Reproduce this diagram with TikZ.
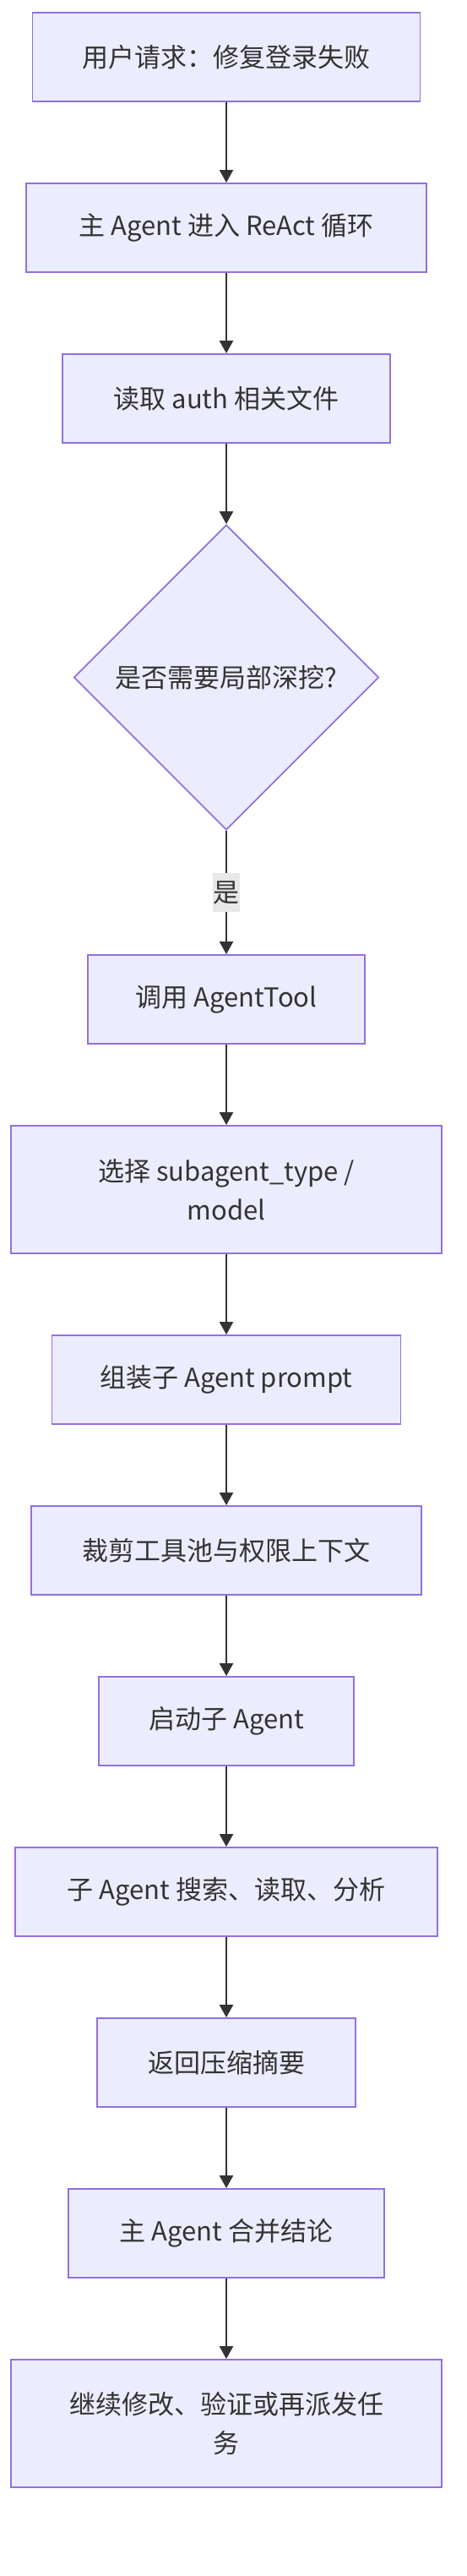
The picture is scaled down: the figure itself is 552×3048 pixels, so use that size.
\documentclass[tikz,border=0pt]{standalone}
\usepackage{fontspec}
\setmainfont{Noto Sans CJK SC}
\usetikzlibrary{arrows.meta,shapes.geometric}
\definecolor{boxfill}{HTML}{ECECFF}
\definecolor{boxline}{HTML}{9370DB}
\definecolor{inkc}{HTML}{333333}
\definecolor{lblfill}{HTML}{E8E8E8}
\begin{document}
\begin{tikzpicture}[x=1pt,y=-1pt,
  block/.style={rectangle,draw=boxline,fill=boxfill,line width=1.8pt,text=inkc,align=center,minimum height=105pt,font=\fontsize{31}{46}\selectfont},
  tall/.style={minimum height=151pt},
  ask/.style={diamond,draw=boxline,fill=boxfill,line width=1.8pt,text=inkc,aspect=1,minimum size=361pt,inner sep=0pt,font=\fontsize{31}{46}\selectfont},
  flow/.style={-{Triangle[length=15pt,width=16pt]},line width=2.2pt,draw=inkc},
  lbl/.style={fill=lblfill,text=inkc,inner sep=0pt,minimum width=32pt,minimum height=46pt,font=\fontsize{31}{46}\selectfont}]
\def\cx{268}
\useasboundingbox (0,0) rectangle (552,3048);
\path
(\cx,67.5) node [block,minimum width=459pt] (req) {用户请求：修复登录失败}
(\cx,269.5) node [block,minimum width=474pt] (react) {主 Agent 进入 ReAct 循环}
(\cx,471.5) node [block,minimum width=388pt] (readf) {读取 auth 相关文件}
(\cx,801.5) node [ask] (deep) {是否需要局部深挖?}
(\cx,1182.5) node [block,minimum width=328pt] (call) {调用 AgentTool}
(\cx,1407.5) node [block,tall,minimum width=510pt] (pick) {选择 subagent\_type /\\model}
(\cx,1632.5) node [block,minimum width=413pt] (build) {组装子 Agent prompt}
(\cx,1834.5) node [block,minimum width=462pt] (trim) {裁剪工具池与权限上下文}
(\cx,2036.5) node [block,minimum width=302pt] (spawn) {启动子 Agent}
(\cx,2238.5) node [block,minimum width=500pt] (work) {子 Agent 搜索、读取、分析}
(\cx,2440.5) node [block,minimum width=306pt] (back) {返回压缩摘要}
(\cx,2642.5) node [block,minimum width=374pt] (merge) {主 Agent 合并结论}
(\cx,2867.5) node [block,tall,minimum width=510pt] (next) {继续修改、验证或再派发任\\务}
;

\begin{scope}[every path/.style=flow]
\path (req) -- (react);
\path (react) -- (readf);
\path (readf) -- (deep);
\path (deep) -- node [lbl] {是} (call);
\path (call) -- (pick);
\path (pick) -- (build);
\path (build) -- (trim);
\path (trim) -- (spawn);
\path (spawn) -- (work);
\path (work) -- (back);
\path (back) -- (merge);
\path (merge) -- (next);
\end{scope}
\end{tikzpicture}
\end{document}
